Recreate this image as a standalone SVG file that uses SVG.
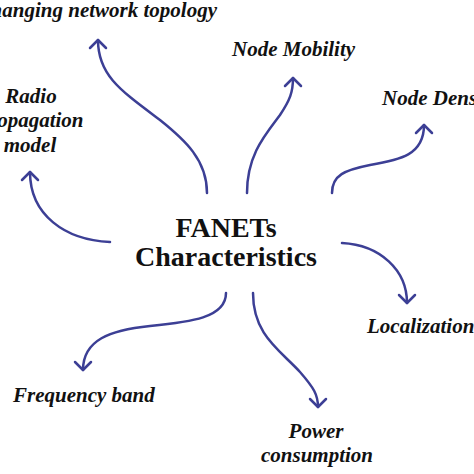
<svg xmlns="http://www.w3.org/2000/svg" width="474" height="474" viewBox="0 0 474 474">
<style>
.lbl{font-family:"Liberation Serif","DejaVu Serif",serif;font-weight:bold;font-style:italic;font-size:21px;fill:#111;}
.ctr{font-family:"Liberation Serif","DejaVu Serif",serif;font-weight:bold;font-size:28px;fill:#111;text-anchor:middle;}
.con{fill:none;stroke:#3c3f95;stroke-width:2.5;stroke-linecap:round;marker-end:url(#ah);}
</style>
<defs>
<marker id="ah" markerWidth="20" markerHeight="20" refX="0" refY="0" orient="auto" markerUnits="userSpaceOnUse" viewBox="-10 -10 20 20" style="overflow:visible">
<path d="M-8,-8 L0,0 L-8,8" fill="none" stroke="#3c3f95" stroke-width="2.5" stroke-linecap="round" stroke-linejoin="round"/>
</marker>
</defs>
<rect width="474" height="474" fill="#fff"/>
<g id="connectors">
<path class="con" d="M207,193 C207,160 185,140 160,120 C120,90 98,75 98,40"/>
<path class="con" d="M247,193 C247,155 265,135 280,115 C290,100 293,92 293,78"/>
<path class="con" d="M332,193 C332,175 345,170 370,165 C400,160 424,155 424,125"/>
<path class="con" d="M110,242 C65,240 30,215 30,172"/>
<path class="con" d="M342,243 C380,245 407,270 407,303"/>
<path class="con" d="M226,293 C226,318 190,322 150,326 C110,330 83,340 83,370"/>
<path class="con" d="M253,293 C253,335 280,350 300,372 C314,388 318,395 318,407"/>
</g>
<g id="center"><text class="ctr" x="226" y="237">FANETs</text><text class="ctr" x="226" y="266">Characteristics</text></g>
<g id="topology"><text class="lbl" x="217" y="17" text-anchor="end">Changing network topology</text></g>
<g id="mobility"><text class="lbl" x="232" y="56">Node Mobility</text></g>
<g id="density"><text class="lbl" x="382" y="105">Node Density</text></g>
<g id="radio"><text class="lbl" text-anchor="middle"><tspan x="31" y="103">Radio</tspan><tspan x="31" y="127">propagation</tspan><tspan x="30" y="152">model</tspan></text></g>
<g id="localization"><text class="lbl" x="367" y="333">Localization</text></g>
<g id="frequency"><text class="lbl" x="13" y="402">Frequency band</text></g>
<g id="power"><text class="lbl" text-anchor="middle"><tspan x="316" y="438">Power</tspan><tspan x="317" y="462">consumption</tspan></text></g>
</svg>
